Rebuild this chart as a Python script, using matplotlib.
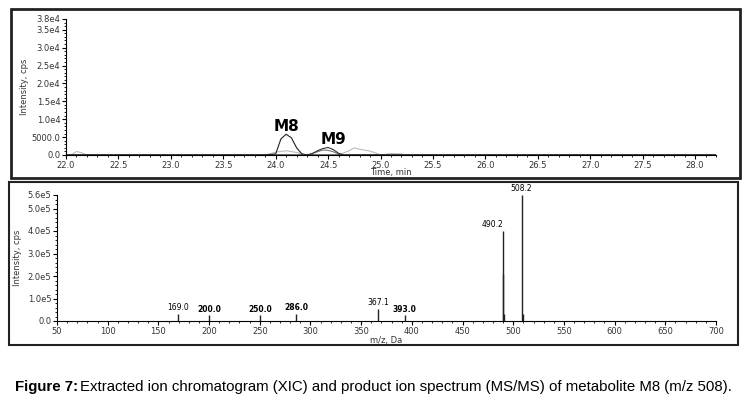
import matplotlib.pyplot as plt
from matplotlib.patches import Rectangle

W, H = 746, 403

# XIC traces (time min, intensity cps)
t_m8 = [22.0, 23.9, 24.0, 24.05, 24.1, 24.15, 24.2, 24.25, 24.3, 28.2]
i_m8 = [0, 0, 300, 4500, 5800, 4800, 2000, 300, 0, 0]
t_m9 = [22.0, 24.3, 24.35, 24.4, 24.45, 24.5, 24.55, 24.6, 24.65, 28.2]
i_m9 = [0, 0, 400, 1200, 1800, 2100, 1500, 500, 0, 0]
t_m9b = [22.0, 24.3, 24.4, 24.45, 24.5, 24.55, 24.62, 28.2]
i_m9b = [0, 0, 900, 1400, 1300, 900, 0, 0]
t_grey = [22.0, 22.05, 22.1, 22.15, 22.2, 23.9, 24.0, 24.1, 24.2, 24.3, 24.6,
          24.7, 24.75, 24.8, 24.9, 24.95, 25.0, 25.1, 25.2, 25.25, 28.2]
i_grey = [0, 0, 1000, 600, 0, 0, 800, 1200, 700, 0, 0,
          1200, 2000, 1600, 1100, 600, 0, 400, 300, 0, 0]

x_ticks_top = [22.0, 22.5, 23.0, 23.5, 24.0, 24.5, 25.0, 25.5, 26.0, 26.5, 27.0, 27.5, 28.0]
y_ticks_top = [0, 5000, 10000, 15000, 20000, 25000, 30000, 35000, 38000]
y_labels_top = ['0.0', '5000.0', '1.0e4', '1.5e4', '2.0e4', '2.5e4', '3.0e4', '3.5e4', '3.8e4']

# MS/MS spectrum
mz = [169.0, 200.0, 250.0, 286.0, 367.1, 393.0, 489.8, 490.2, 491.0, 508.2, 509.2]
inten = [30000, 25000, 25000, 30000, 55000, 25000, 210000, 400000, 30000, 560000, 30000]
peak_labels = {169.0: '169.0', 200.0: '200.0', 250.0: '250.0', 286.0: '286.0',
               367.1: '367.1', 393.0: '393.0', 490.2: '490.2', 508.2: '508.2'}
bold_labels = {'200.0', '250.0', '286.0', '393.0'}
y_ticks_bot = [0, 100000, 200000, 300000, 400000, 500000, 560000]
y_labels_bot = ['0.0', '1.0e5', '2.0e5', '3.0e5', '4.0e5', '5.0e5', '5.6e5']

fig = plt.figure(figsize=(W / 100, H / 100), dpi=100)

def ax_px(l, t, r, b):
    return fig.add_axes([l / W, 1 - b / H, (r - l) / W, (b - t) / H])

# panel borders
fig.patches.append(Rectangle((11 / W, 1 - 178 / H), 729 / W, 169 / H, transform=fig.transFigure,
                             fill=False, lw=2, ec='#222222'))
fig.patches.append(Rectangle((9 / W, 1 - 345 / H), 729 / W, 163 / H, transform=fig.transFigure,
                             fill=False, lw=1.5, ec='#222222'))

fs = 6
tc = '#333333'
ax1 = ax_px(66, 19, 716, 155)
ax1.plot(t_grey, i_grey, color='#bbbbbb', lw=0.8)
ax1.plot(t_m9b, i_m9b, color='#777777', lw=0.8)
ax1.plot(t_m9, i_m9, color='#333333', lw=0.8)
ax1.plot(t_m8, i_m8, color='#222222', lw=0.8)
ax1.set_xlim(22.0, 28.2)
ax1.set_ylim(0, 38000)
ax1.set_xticks(x_ticks_top)
ax1.set_xticklabels([f'{v:.1f}' for v in x_ticks_top], fontsize=fs, color=tc)
ax1.set_yticks(y_ticks_top)
ax1.set_yticklabels(y_labels_top, fontsize=fs, color=tc)
ax1.minorticks_on()
ax1.tick_params(length=3, width=0.8, pad=1)
ax1.tick_params(which='minor', length=1.5)
for s in ['top', 'right']:
    ax1.spines[s].set_visible(False)
ax1.set_xlabel('Time, min', fontsize=fs, labelpad=-1, color=tc)
ax1.set_ylabel('Intensity, cps', fontsize=fs, labelpad=2, color=tc)
ax1.text(24.1, 6800, 'M8', fontsize=11, fontweight='bold', ha='center')
ax1.text(24.55, 3000, 'M9', fontsize=11, fontweight='bold', ha='center')

ax2 = ax_px(57, 195, 716, 321)
ax2.vlines(mz, 0, inten, color='#222222', lw=1)
for m, v in zip(mz, inten):
    if m in peak_labels:
        lab = peak_labels[m]
        ax2.text(m, v + 8000, lab, fontsize=5.5, ha='right' if m == 490.2 else 'center',
                 va='bottom', fontweight='bold' if lab in bold_labels else 'normal')
ax2.set_xlim(50, 700)
ax2.set_ylim(0, 560000)
ax2.set_xticks(range(50, 701, 50))
ax2.set_xticklabels([str(v) for v in range(50, 701, 50)], fontsize=fs, color=tc)
ax2.set_yticks(y_ticks_bot)
ax2.set_yticklabels(y_labels_bot, fontsize=fs, color=tc)
ax2.minorticks_on()
ax2.tick_params(length=3, width=0.8, pad=1)
ax2.tick_params(which='minor', length=1.5)
for s in ['top', 'right']:
    ax2.spines[s].set_visible(False)
ax2.set_xlabel('m/z, Da', fontsize=fs, labelpad=0, color=tc)
ax2.set_ylabel('Intensity, cps', fontsize=fs, labelpad=4, color=tc)

fig.text(15 / W, 1 - 387 / H, 'Figure 7:', fontsize=10.8, fontweight='bold', va='center',
         family='Liberation Sans')
fig.text(80 / W, 1 - 387 / H,
         'Extracted ion chromatogram (XIC) and product ion spectrum (MS/MS) of metabolite M8 (m/z 508).',
         fontsize=10.8, va='center', family='Liberation Sans')

fig.savefig('out.png', dpi=100)
